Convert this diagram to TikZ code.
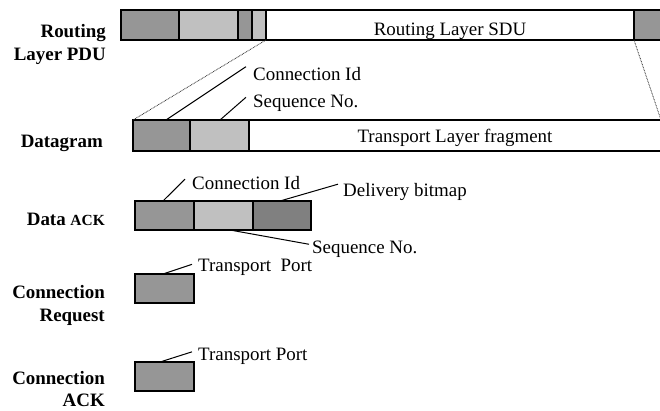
\documentclass[tikz,border=0pt]{standalone}
\usepackage{fontspec}
\setmainfont{Liberation Serif}
\definecolor{gMid}{HTML}{969696}
\definecolor{gLight}{HTML}{C0C0C0}
\definecolor{gDark}{HTML}{808080}
\begin{document}
\begin{tikzpicture}[x=1bp,y=-1bp,
  seg/.style={draw=black, line width=1.1bp, inner sep=0pt, outer sep=0pt, anchor=north west},
  mid/.style={seg, fill=gMid},
  light/.style={seg, fill=gLight},
  dark/.style={seg, fill=gDark},
  blank/.style={seg, fill=white},
  lbl/.style={inner sep=0pt, anchor=base west, font=\fontsize{19}{23}\selectfont},
  ttl/.style={inner sep=0pt, align=right, anchor=north east, font=\fontsize{19}{22.5}\selectfont\bfseries},
  lead/.style={line width=1bp},
  zoomline/.style={line width=0.8bp, draw=black!80, dash pattern=on 0.8bp off 0.8bp}]
\useasboundingbox (0,0) rectangle (660,410);
\clip (0,0) rectangle (660,410);

% Routing layer PDU
\node[mid,   minimum width=58bp,  minimum height=30bp] (r1) at (121,10) {};
\node[light, minimum width=59bp,  minimum height=30bp] (r2) at (179,10) {};
\node[mid,   minimum width=14bp,  minimum height=30bp] (r3) at (238,10) {};
\node[light, minimum width=14bp,  minimum height=30bp] (r4) at (252,10) {};
\node[blank, minimum width=368bp, minimum height=30bp] (r5) at (266,10) {};
\node[mid,   minimum width=40bp,  minimum height=30bp] (r6) at (634,10) {};
\node[lbl, anchor=base] (sdu) at (450,35) {Routing Layer SDU};

% Datagram
\node[mid,   minimum width=57bp,  minimum height=31bp] (d1) at (133,120) {};
\node[light, minimum width=59bp,  minimum height=31bp] (d2) at (190,120) {};
\node[blank, minimum width=421bp, minimum height=31bp] (d3) at (249,120) {};
\node[lbl, anchor=base] (frag) at (455,142) {Transport Layer fragment};

% zoom lines
\draw[zoomline] (r4.south east) -- (d1.north west);
\draw[zoomline] (r6.south west) -- (661,120);

% Data ACK
\node[mid,   minimum width=59bp, minimum height=29bp] (a1) at (135,201) {};
\node[light, minimum width=59bp, minimum height=29bp] (a2) at (194,201) {};
\node[dark,  minimum width=58bp, minimum height=29bp] (a3) at (253,201) {};

% Connection request / ack
\node[mid, minimum width=59bp, minimum height=29bp] (c1) at (135,274) {};
\node[mid, minimum width=59bp, minimum height=29bp] (c2) at (135,362) {};

% left titles
\node[ttl] (tRout) at (106,24.5) {Routing\\Layer PDU};
\node[ttl, anchor=base east] (tDg) at (103,147) {Datagram};
\node[ttl, anchor=base east] (tDa) at (105,225) {Data {\fontsize{15.5}{18}\selectfont ACK}};
\node[ttl] (tReq) at (105,285.5) {Connection\\Request};
\node[ttl, font=\fontsize{19}{21.5}\selectfont\bfseries] (tCak) at (105,371.5) {Connection\\ACK};

% field labels
\node[lbl] (lCid1) at (253,80) {Connection Id};
\node[lbl] (lSeq1) at (253,107.5) {Sequence No.};
\node[lbl] (lCid2) at (192,189) {Connection Id};
\node[lbl] (lBmp)  at (343,196) {Delivery bitmap};
\node[lbl] (lSeq2) at (312,253) {Sequence No.};
\node[lbl] (lTp1)  at (198,271) {Transport~~Port};
\node[lbl] (lTp2)  at (198,360) {Transport Port};

% leader lines
\draw[lead] ([xshift=4.5bp]d1.north) -- ([shift={(-7,0)}]lCid1.north west);
\draw[lead] ([xshift=0.5bp]d2.north) -- ([shift={(-7,2.5)}]lSeq1.north west);
\draw[lead] ([xshift=-1.5bp]a1.north) -- ([shift={(-7,3.5)}]lCid2.north west);
\draw[lead] ([xshift=-2bp]a3.north) -- ([shift={(-5,1.5)}]lBmp.north west);
\draw[lead] ([xshift=6.5bp]a2.south) -- ([shift={(-3,4)}]lSeq2.north west);
\draw[lead] ([xshift=-1.5bp]c1.north) -- ([shift={(-6,-2.5)}]lTp1.west);
\draw[lead] ([xshift=-4.5bp]c2.north) -- ([shift={(-6,-4)}]lTp2.west);
\end{tikzpicture}
\end{document}
